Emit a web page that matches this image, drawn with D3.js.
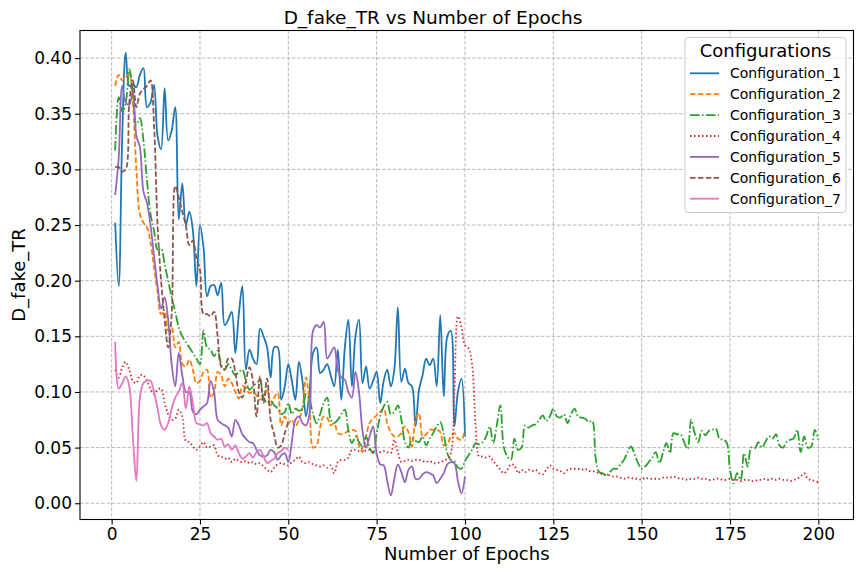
<!DOCTYPE html>
<html><head><meta charset="utf-8">
<script src="https://cdn.jsdelivr.net/npm/d3@7"></script>
<style>body{margin:0;background:#fff} svg{display:block} text{font-family:"DejaVu Sans",sans-serif}</style>
</head><body>
<svg id="chart" width="864" height="576"></svg>
<script>
const seriesNames = ["Configuration_1","Configuration_2","Configuration_3","Configuration_4","Configuration_5","Configuration_6","Configuration_7"];

const config1 = [0.252,0.195,0.33,0.405,0.375,0.376,0.374,0.385,0.391,0.356,
0.36,0.376,0.33,0.318,0.373,0.326,0.335,0.356,0.255,0.2875,
0.25,0.262,0.245,0.195,0.25,0.23,0.186,0.195,0.196,0.187,
0.198,0.16,0.165,0.172,0.135,0.17,0.195,0.12,0.138,0.13,
0.125,0.157,0.15,0.14,0.113,0.14,0.14,0.093,0.105,0.125,
0.11,0.093,0.127,0.11,0.078,0.1,0.135,0.14,0.117,0.12,
0.125,0.115,0.105,0.138,0.093,0.14,0.165,0.105,0.15,0.165,
0.108,0.123,0.103,0.11,0.118,0.09,0.11,0.12,0.105,0.12,
0.176,0.109,0.121,0.108,0.105,0.069,0.102,0.115,0.13,0.124,
0.13,0.105,0.169,0.096,0.15,0.155,0.069,0.1,0.112,0.06];

const config2 = [0.375,0.385,0.38,0.383,0.385,0.36,0.30,0.26,0.252,0.248,
0.235,0.212,0.19,0.17,0.172,0.155,0.158,0.14,0.145,0.125,
0.123,0.129,0.12,0.108,0.11,0.118,0.12,0.095,0.1,0.118,
0.115,0.105,0.112,0.108,0.1,0.094,0.105,0.104,0.099,0.1,
0.097,0.093,0.095,0.103,0.088,0.095,0.099,0.07,0.078,0.072,
0.075,0.069,0.075,0.085,0.113,0.09,0.05,0.052,0.068,0.078,
0.077,0.07,0.072,0.063,0.062,0.063,0.065,0.066,0.065,0.052,
0.046,0.06,0.072,0.076,0.079,0.082,0.085,0.072,0.064,0.06,
0.06,0.063,0.069,0.064,0.051,0.075,0.081,0.06,0.062,0.066,
0.066,0.066,0.064,0.052,0.053,0.06,0.063,0.058,0.057,0.066];

const config3 = [0.317,0.365,0.352,0.36,0.39,0.37,0.34,0.346,0.326,0.29,
0.26,0.245,0.228,0.229,0.215,0.2,0.185,0.172,0.158,0.15,
0.145,0.14,0.135,0.13,0.125,0.155,0.14,0.138,0.132,0.137,
0.125,0.12,0.125,0.12,0.115,0.118,0.12,0.11,0.102,0.105,
0.108,0.11,0.095,0.09,0.092,0.088,0.085,0.08,0.082,0.09,
0.08,0.085,0.083,0.085,0.098,0.093,0.08,0.072,0.08,0.09,
0.095,0.075,0.072,0.075,0.08,0.084,0.065,0.054,0.06,0.055,
0.051,0.06,0.05,0.045,0.063,0.078,0.087,0.091,0.08,0.082,
0.088,0.075,0.055,0.05,0.058,0.056,0.055,0.06,0.052,0.058,
0.063,0.069,0.073,0.062,0.045,0.039,0.038,0.032,0.031,0.038,
0.043,0.048,0.054,0.053,0.055,0.06,0.069,0.054,0.07,0.088,
0.05,0.042,0.039,0.058,0.048,0.05,0.07,0.068,0.07,0.071,
0.075,0.079,0.074,0.078,0.085,0.078,0.077,0.08,0.072,0.08,
0.085,0.078,0.077,0.076,0.073,0.074,0.04,0.028,0.027,0.025,
0.028,0.031,0.031,0.035,0.039,0.046,0.051,0.044,0.036,0.031,
0.033,0.037,0.041,0.046,0.036,0.045,0.054,0.045,0.063,0.062,
0.062,0.055,0.049,0.075,0.063,0.055,0.065,0.061,0.065,0.066,
0.067,0.058,0.057,0.055,0.03,0.018,0.027,0.021,0.045,0.033,
0.05,0.049,0.055,0.05,0.055,0.06,0.058,0.062,0.052,0.05,
0.055,0.057,0.058,0.066,0.046,0.06,0.05,0.051,0.066,0.057];

const config4 = [0.12,0.113,0.122,0.127,0.12,0.11,0.108,0.115,0.115,0.11,
0.103,0.098,0.102,0.103,0.09,0.08,0.075,0.076,0.084,0.078,
0.056,0.055,0.051,0.048,0.051,0.055,0.05,0.051,0.052,0.043,
0.042,0.04,0.041,0.037,0.04,0.038,0.037,0.038,0.036,0.037,
0.035,0.036,0.033,0.03,0.028,0.032,0.035,0.036,0.035,0.034,
0.037,0.039,0.042,0.037,0.036,0.037,0.035,0.034,0.033,0.034,
0.032,0.034,0.027,0.037,0.039,0.039,0.041,0.048,0.048,0.047,
0.049,0.047,0.048,0.046,0.045,0.046,0.047,0.046,0.045,0.057,
0.046,0.037,0.038,0.039,0.038,0.039,0.039,0.038,0.037,0.038,
0.036,0.036,0.037,0.038,0.04,0.045,0.1,0.168,0.158,0.142,
0.139,0.125,0.07,0.042,0.042,0.041,0.042,0.038,0.034,0.03,
0.027,0.03,0.035,0.034,0.027,0.03,0.028,0.03,0.029,0.03,
0.027,0.026,0.03,0.034,0.031,0.03,0.029,0.027,0.03,0.031,
0.031,0.031,0.03,0.031,0.029,0.029,0.028,0.027,0.026,0.025,
0.025,0.024,0.024,0.023,0.022,0.023,0.023,0.022,0.022,0.021,
0.023,0.022,0.022,0.022,0.022,0.023,0.023,0.023,0.024,0.023,
0.022,0.022,0.021,0.022,0.022,0.023,0.022,0.022,0.021,0.021,
0.022,0.022,0.021,0.021,0.022,0.021,0.021,0.02,0.021,0.021,
0.02,0.02,0.021,0.021,0.022,0.021,0.022,0.021,0.022,0.021,
0.021,0.02,0.021,0.022,0.024,0.027,0.022,0.021,0.02,0.019];

const config5 = [0.277,0.31,0.375,0.36,0.358,0.37,0.33,0.32,0.28,0.27,
0.25,0.222,0.195,0.175,0.185,0.165,0.125,0.105,0.135,0.115,
0.1,0.1,0.082,0.08,0.084,0.087,0.09,0.11,0.1,0.075,
0.072,0.07,0.068,0.06,0.075,0.07,0.062,0.058,0.055,0.054,
0.048,0.043,0.042,0.043,0.048,0.046,0.039,0.043,0.045,0.037,
0.055,0.075,0.078,0.072,0.07,0.08,0.155,0.16,0.158,0.163,
0.13,0.135,0.14,0.12,0.113,0.111,0.1,0.095,0.118,0.1,
0.065,0.05,0.06,0.069,0.045,0.035,0.034,0.02,0.007,0.022,
0.035,0.028,0.019,0.03,0.033,0.022,0.022,0.026,0.028,0.027,
0.025,0.018,0.022,0.027,0.035,0.037,0.036,0.02,0.009,0.024];

const config6 = [0.302,0.302,0.298,0.3,0.36,0.38,0.356,0.368,0.372,0.375,
0.38,0.34,0.25,0.2,0.165,0.14,0.17,0.285,0.275,0.262,
0.25,0.232,0.236,0.22,0.21,0.17,0.17,0.168,0.172,0.15,
0.123,0.12,0.13,0.13,0.118,0.1,0.095,0.11,0.122,0.11,
0.078,0.114,0.09,0.112,0.075,0.062,0.05,0.052,0.063,0.073];

const config7 = [0.145,0.103,0.108,0.114,0.105,0.06,0.02,0.095,0.108,0.11,
0.11,0.1,0.085,0.07,0.066,0.072,0.085,0.095,0.1,0.108,
0.085,0.105,0.09,0.072,0.071,0.07,0.072,0.063,0.06,0.057,
0.058,0.051,0.053,0.048,0.052,0.045,0.04,0.042,0.045,0.041,
0.046,0.048,0.042,0.036,0.038,0.04,0.045,0.047,0.05,0.048];

const seriesValues = [config1, config2, config3, config4, config5, config6, config7];
const xTicks = [0,25,50,75,100,125,150,175,200];
const yTicks = [0,0.05,0.10,0.15,0.20,0.25,0.30,0.35,0.40];
const colors = ["#1f77b4","#ff7f0e","#2ca02c","#d62728","#9467bd","#8c564b","#e377c2"];
const dashes = [null,"5.5,2.4","9.6,2.4,1.5,2.4","1.5,2.5",null,"5.5,2.4",null];

const svg = d3.select("#chart");
const L = 80, R = 853.5, T = 30.5, B = 519.5;
const x = d3.scaleLinear().domain([-8.95, 209.95]).range([L, R]);
const y = d3.scaleLinear().domain([-0.0146, 0.4248]).range([B, T]);

svg.append("rect").attr("width",864).attr("height",576).attr("fill","#fff");

// grid
const grid = svg.append("g");
grid.selectAll("line.gx").data(xTicks).join("line")
  .attr("x1", d=>x(d)).attr("x2", d=>x(d)).attr("y1", T).attr("y2", B)
  .attr("stroke","#b0b0b0").attr("stroke-width",0.9).attr("stroke-dasharray","3.5,1.8");
grid.selectAll("line.gy").data(yTicks).join("line")
  .attr("y1", d=>y(d)).attr("y2", d=>y(d)).attr("x1", L).attr("x2", R)
  .attr("stroke","#b0b0b0").attr("stroke-width",0.9).attr("stroke-dasharray","3.5,1.8");

svg.append("clipPath").attr("id","clip").append("rect")
  .attr("x",L).attr("y",T).attr("width",R-L).attr("height",B-T);

const lineGen = d3.line()
  .x((d,i)=>x(i+1)).y(d=>y(d))
  .curve(d3.curveCatmullRom.alpha(0.5));

const plot = svg.append("g").attr("clip-path","url(#clip)");
seriesValues.forEach((vals,k)=>{
  plot.append("path").datum(vals)
    .attr("d", lineGen)
    .attr("fill","none")
    .attr("stroke", colors[k])
    .attr("stroke-width", 1.8)
    .attr("stroke-dasharray", dashes[k])
    .attr("stroke-linejoin","round");
});

// axes
const xAxis = svg.append("g").attr("transform",`translate(0,${B})`)
  .call(d3.axisBottom(x).tickValues(xTicks).tickSize(5).tickPadding(3).tickFormat(d3.format("d")));
const yAxis = svg.append("g").attr("transform",`translate(${L},0)`)
  .call(d3.axisLeft(y).tickValues(yTicks).tickSize(5).tickPadding(3).tickFormat(d3.format(".2f")));
[xAxis,yAxis].forEach(a=>{
  a.select(".domain").remove();
  a.selectAll(".tick line").attr("stroke","#000").attr("stroke-width",1.1);
  a.selectAll(".tick text").attr("font-size",17).attr("font-family","DejaVu Sans").attr("fill","#000");
});

svg.append("rect").attr("x",L).attr("y",T).attr("width",R-L).attr("height",B-T)
  .attr("fill","none").attr("stroke","#000").attr("stroke-width",1.1);

// titles
svg.append("text").attr("x",433).attr("y",23.5).attr("text-anchor","middle")
  .attr("font-size",18.5).text("D_fake_TR vs Number of Epochs");
svg.append("text").attr("x",(L+R)/2).attr("y",560).attr("text-anchor","middle")
  .attr("font-size",18).text("Number of Epochs");
svg.append("text").attr("transform",`translate(25,${(T+B)/2}) rotate(-90)`).attr("text-anchor","middle")
  .attr("font-size",18).text("D_fake_TR");

// legend
const lg = svg.append("g");
lg.append("rect").attr("x",685).attr("y",37.5).attr("width",161).attr("height",175)
  .attr("rx",3.5).attr("fill","#fff").attr("fill-opacity",0.8)
  .attr("stroke","#cccccc").attr("stroke-width",1);
lg.append("text").attr("x",765.5).attr("y",57).attr("text-anchor","middle")
  .attr("font-size",18).text("Configurations");
seriesNames.forEach((name,k)=>{
  const yy = 73.3 + 20.9*k;
  lg.append("line").attr("x1",690).attr("x2",719).attr("y1",yy).attr("y2",yy)
    .attr("stroke",colors[k]).attr("stroke-width",1.8).attr("stroke-dasharray",dashes[k]);
  lg.append("text").attr("x",730).attr("y",yy+5).attr("font-size",14).text(name);
});
</script>
</body></html>
